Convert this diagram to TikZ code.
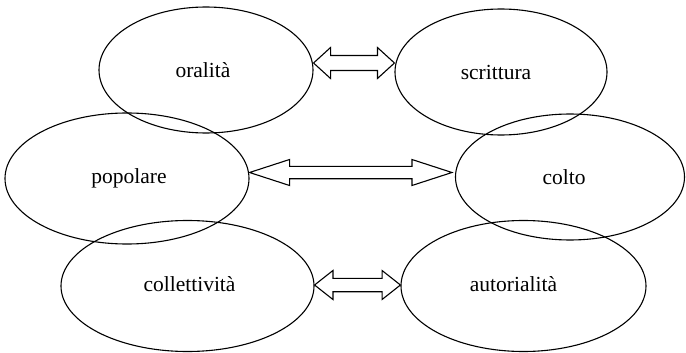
\documentclass[tikz,border=0pt]{standalone}
\usepackage{fontspec}
\setmainfont{Liberation Serif}
\usetikzlibrary{shapes.geometric,calc}
\tikzset{
  oval/.style={ellipse, draw=black, line width=1.1pt, inner sep=0pt},
  lbl/.style={font=\fontsize{21.5}{25}\selectfont, inner sep=0pt},
  blockarrow/.style={draw=black, line width=1.1pt, line join=miter}
}
\newcommand{\hollowarrow}[5]{%
  \draw[blockarrow] let \p1=(#1), \p2=(#2) in
    (\p1) -- ++(#3pt,#4pt) -- ++(0pt,#5pt-#4pt) -- (\x2-#3pt,\y2+#5pt)
    -- ++(0pt,#4pt-#5pt) -- (\p2) -- ++(-#3pt,-#4pt) -- ++(0pt,#4pt-#5pt)
    -- (\x1+#3pt,\y1-#5pt) -- ++(0pt,#5pt-#4pt) -- cycle;}
\begin{document}
\begin{tikzpicture}[x=1pt,y=-1pt]
\useasboundingbox (0,0) rectangle (686,353);
% ellipses
\node[oval, minimum width=214pt, minimum height=126pt,
      label={[lbl, xshift=-3pt]center:oralità}] (oral) at (206,70) {};
\node[oval, minimum width=212pt, minimum height=126pt,
      label={[lbl, xshift=-5pt]center:scrittura}] (scrit) at (501,72) {};
\node[oval, minimum width=244pt, minimum height=131pt,
      label={[lbl, xshift=2pt]center:popolare}] (pop) at (127,178.5) {};
\node[oval, minimum width=229pt, minimum height=126pt,
      label={[lbl, xshift=-6pt]center:colto}] (colto) at (570,177) {};
\node[oval, minimum width=253pt, minimum height=131pt,
      label={[lbl, xshift=2pt, yshift=2pt]center:collettività}] (coll) at (187.5,286) {};
\node[oval, minimum width=245pt, minimum height=131pt,
      label={[lbl, xshift=-10pt, yshift=2pt]center:autorialità}] (auto) at (523.5,286) {};
% arrow tips
\coordinate (a1l) at ($(oral.east)+(0,-7)$);
\coordinate (a1r) at ($(scrit.west)+(0,-9)$);
\coordinate (a2l) at ($(pop.east)+(0,-6)$);
\coordinate (a2r) at ($(colto.west)+(-3,-4.5)$);
\coordinate (a3l) at ($(coll.east)+(0,-1)$);
\coordinate (a3r) at ($(auto.west)+(0,-1)$);
% double block arrows
\hollowarrow{a1l}{a1r}{17}{15.5}{7.5}
\hollowarrow{a2l}{a2r}{40}{13}{6.2}
\hollowarrow{a3l}{a3r}{18.4}{14.5}{6.7}
\end{tikzpicture}
\end{document}
